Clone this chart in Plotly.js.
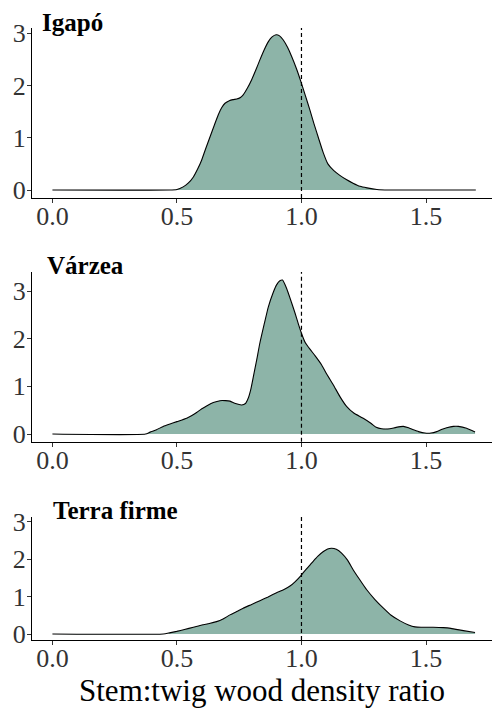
<!DOCTYPE html>
<html>
<head>
<meta charset="utf-8">
<script src="https://cdn.plot.ly/plotly-3.0.1.min.js"></script>
<style>html,body{margin:0;padding:0;background:#fff;}#chart{width:492px;height:714px;}</style>
</head>
<body>
<div id="chart"></div>
<script>
// Panel titles
const panelNames = ["Igapó", "Várzea", "Terra firme"];
const xAxisTitle = "Stem:twig wood density ratio";
const refLine = 1.0;
const xTicks = [0, 0.5, 1, 1.5];
const xTickText = ["0.0", "0.5", "1.0", "1.5"];
const yTicks = [0, 1, 2, 3];

// Igapó density
const igapoX = [0, 0.47, 0.5, 0.525, 0.545, 0.566, 0.583, 0.599, 0.616, 0.633, 0.65, 0.666, 0.68, 0.693, 0.71, 0.725, 0.74, 0.755, 0.766, 0.783, 0.8, 0.817, 0.833, 0.85, 0.867, 0.882, 0.898, 0.912, 0.927, 0.944, 0.961, 0.98, 0.998, 1.016, 1.034, 1.05, 1.068, 1.087, 1.106, 1.13, 1.154, 1.18, 1.207, 1.235, 1.263, 1.303, 1.35, 1.7];
const igapoY = [0, 0, 0.01, 0.06, 0.13, 0.25, 0.4, 0.57, 0.8, 1.02, 1.24, 1.44, 1.58, 1.66, 1.71, 1.73, 1.74, 1.77, 1.82, 1.95, 2.11, 2.3, 2.49, 2.68, 2.84, 2.93, 2.97, 2.95, 2.87, 2.73, 2.55, 2.32, 2.07, 1.8, 1.53, 1.27, 1.0, 0.72, 0.5, 0.37, 0.28, 0.2, 0.13, 0.07, 0.04, 0.01, 0, 0];

// Várzea density
const varzeaX = [0, 0.374, 0.392, 0.418, 0.445, 0.472, 0.5, 0.539, 0.56, 0.579, 0.6, 0.619, 0.646, 0.673, 0.695, 0.713, 0.735, 0.76, 0.775, 0.786, 0.797, 0.807, 0.82, 0.833, 0.85, 0.867, 0.885, 0.9, 0.912, 0.924, 0.935, 0.947, 0.96, 0.974, 0.988, 1.001, 1.015, 1.034, 1.055, 1.081, 1.1, 1.128, 1.155, 1.181, 1.21, 1.248, 1.28, 1.3, 1.322, 1.355, 1.38, 1.409, 1.43, 1.449, 1.47, 1.496, 1.52, 1.543, 1.565, 1.583, 1.61, 1.63, 1.663, 1.697];
const varzeaY = [0, 0, 0.04, 0.09, 0.16, 0.21, 0.26, 0.33, 0.39, 0.45, 0.53, 0.59, 0.66, 0.7, 0.7, 0.69, 0.64, 0.61, 0.64, 0.75, 0.95, 1.21, 1.55, 1.91, 2.3, 2.67, 2.95, 3.13, 3.21, 3.23, 3.12, 2.96, 2.76, 2.54, 2.3, 2.1, 1.92, 1.78, 1.64, 1.45, 1.27, 1.03, 0.78, 0.58, 0.44, 0.33, 0.22, 0.14, 0.11, 0.11, 0.14, 0.16, 0.13, 0.09, 0.05, 0.02, 0.02, 0.05, 0.1, 0.13, 0.16, 0.16, 0.12, 0.04];

// Terra firme density
const terraX = [0, 0.445, 0.47, 0.499, 0.53, 0.566, 0.6, 0.63, 0.659, 0.685, 0.713, 0.74, 0.766, 0.8, 0.833, 0.866, 0.9, 0.93, 0.954, 0.975, 0.998, 1.015, 1.034, 1.047, 1.065, 1.088, 1.105, 1.121, 1.14, 1.161, 1.185, 1.208, 1.235, 1.262, 1.295, 1.329, 1.36, 1.396, 1.43, 1.456, 1.48, 1.529, 1.57, 1.6, 1.65, 1.697];
const terraY = [0, 0, 0.03, 0.07, 0.12, 0.18, 0.24, 0.28, 0.33, 0.4, 0.51, 0.6, 0.69, 0.79, 0.89, 0.99, 1.1, 1.19, 1.28, 1.4, 1.56, 1.7, 1.84, 1.94, 2.07, 2.2, 2.27, 2.29, 2.26, 2.16, 1.97, 1.71, 1.44, 1.18, 0.92, 0.69, 0.5, 0.35, 0.24, 0.19, 0.18, 0.18, 0.17, 0.15, 0.09, 0.04];

const fillColor = "rgb(141,180,168)";
const series = [[igapoX, igapoY], [varzeaX, varzeaY], [terraX, terraY]];
const suffix = ["", "2", "3"];
const H = 714;
// pixel geometry of panels [top, bottom]
const panelPx = [[28, 198], [272, 441.7], [516.7, 640]];
const yRanges = [[-0.153, 3.10], [-0.161, 3.40], [-0.16, 3.13]];
const titlePos = [[40, 22.5], [45, 265.5], [51, 510.5]];

const traces = series.map((s, i) => ({
  type: "scatter", mode: "lines",
  x: s[0], y: s[1],
  xaxis: "x" + suffix[i], yaxis: "y" + suffix[i],
  fill: "tozeroy", fillcolor: fillColor,
  line: {color: "#000", width: 1.1, shape: "spline", smoothing: 0.5},
  hoverinfo: "skip", showlegend: false
}));

const layout = {
  width: 492, height: 714,
  margin: {l: 0, r: 0, t: 0, b: 0},
  paper_bgcolor: "#fff", plot_bgcolor: "#fff",
  font: {family: "Liberation Serif, Times New Roman, serif", color: "#333"},
  showlegend: false,
  shapes: [], annotations: []
};

for (let i = 0; i < 3; i++) {
  const [top, bot] = panelPx[i];
  const xa = {
    domain: [32 / 492, 1], range: [-0.082, 1.765],
    anchor: "y" + suffix[i],
    tickmode: "array", tickvals: xTicks, ticktext: xTickText,
    ticks: "outside", ticklen: 4, tickwidth: 1, tickcolor: "#333",
    ticklabelstandoff: -9,
    showline: true, linecolor: "#000", linewidth: 1,
    showgrid: false, zeroline: false,
    tickfont: {size: 26, color: "#333", family: "Liberation Serif, serif"}
  };
  if (i === 2) {
    xa.title = {text: xAxisTitle, font: {size: 31, color: "#000", family: "Liberation Serif, serif"}, standoff: 4};
  }
  const ya = {
    domain: [1 - bot / H, 1 - top / H], range: yRanges[i],
    anchor: "x" + suffix[i],
    tickmode: "array", tickvals: yTicks,
    ticks: "outside", ticklen: 4, tickwidth: 1, tickcolor: "#333",
    ticklabelstandoff: -4,
    showline: true, linecolor: "#000", linewidth: 1,
    showgrid: false, zeroline: false,
    tickfont: {size: 26, color: "#333", family: "Liberation Serif, serif"}
  };
  layout["xaxis" + suffix[i]] = xa;
  layout["yaxis" + suffix[i]] = ya;
  layout.shapes.push({
    type: "line", xref: "x" + suffix[i], yref: "y" + suffix[i] + " domain",
    x0: refLine, x1: refLine, y0: 0, y1: 1,
    line: {color: "#000", width: 1.2, dash: "4px,3px"}
  });
  layout.annotations.push({
    text: "<b>" + panelNames[i] + "</b>",
    xref: "paper", yref: "paper",
    x: titlePos[i][0] / 492, y: 1 - titlePos[i][1] / H,
    xanchor: "left", yanchor: "middle", showarrow: false,
    font: {size: 25, color: "#000", family: "Liberation Serif, serif"}
  });
}

Plotly.newPlot("chart", traces, layout, {displayModeBar: false, staticPlot: true});
</script>
</body>
</html>
